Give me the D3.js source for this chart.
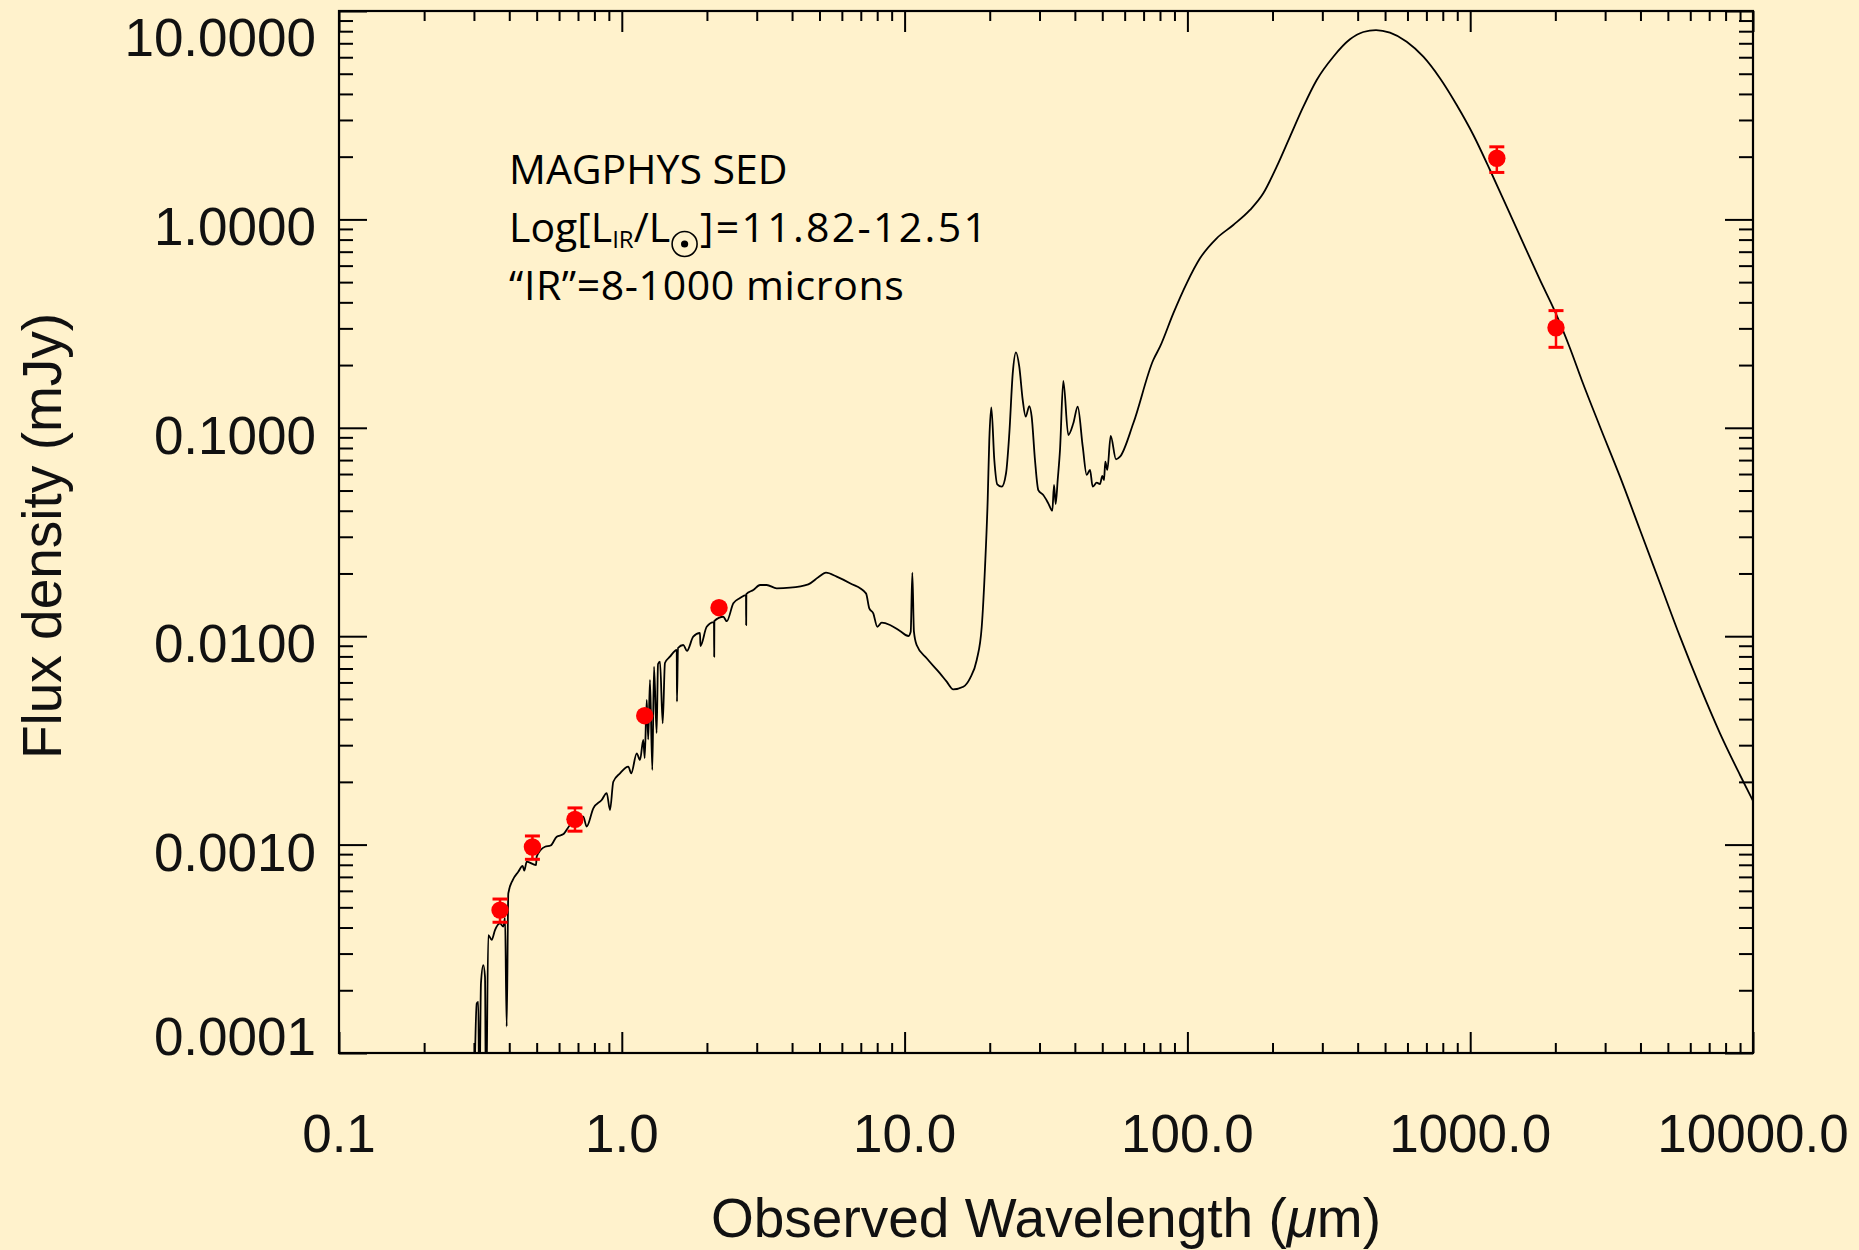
<!DOCTYPE html>
<html>
<head>
<meta charset="utf-8">
<script src="https://cdn.jsdelivr.net/npm/d3@7"></script>
<style>
  html, body { margin: 0; padding: 0; background: #FFF2CC; }
  svg { display: block; }
</style>
</head>
<body>
<div id="chart"></div>
<script>
// ---------------- data ----------------
// MAGPHYS best-fit SED (observed wavelength in micron, flux density in mJy)
const sedWave = [
  0.300, 0.3069, 0.3109, 0.3133, 0.3177, 0.3238, 0.3283, 0.3310, 0.3372, 0.3467,
  0.3561, 0.3709, 0.3811, 0.3864, 0.3917, 0.3969, 0.4114, 0.4305, 0.446, 0.452,
  0.4612, 0.4975, 0.500, 0.5351, 0.560, 0.5887, 0.620, 0.6559, 0.7310, 0.751,
  0.7929, 0.8489, 0.8843, 0.9085, 0.9331, 0.9854, 1.054, 1.080, 1.129, 1.160,
  1.191, 1.205, 1.225, 1.240, 1.258, 1.282, 1.300, 1.328, 1.343, 1.365,
  1.395, 1.421, 1.480, 1.564, 1.567, 1.580, 1.650, 1.700, 1.789, 1.890,
  1.897, 1.996, 2.118, 2.122, 2.125, 2.285, 2.350, 2.480, 2.618, 2.749,
  2.753, 2.757, 2.917, 3.082, 3.253, 3.530, 3.934, 4.565, 4.952, 5.273,
  5.753, 6.411, 7.303, 7.502, 7.749, 8.007, 8.299, 8.879, 9.632, 10.31,
  10.51, 10.65, 10.79, 11.03, 11.97, 13.34, 14.09, 14.86, 16.13, 17.03,
  17.99, 18.74, 19.25, 19.67, 19.93, 20.26, 20.76, 21.27, 22.05, 22.84,
  23.46, 24.12, 24.77, 25.44, 26.16, 26.80, 27.60, 28.14, 28.91, 29.70,
  30.93, 32.22, 33.29, 33.76, 34.21, 34.78, 35.44, 36.41, 37.92, 39.50,
  40.94, 42.65, 44.05, 45.25, 46.25, 47.79, 49.08, 50.02, 50.71, 51.25,
  52.09, 53.55, 55.91, 57.77, 64.38, 75.74, 80.01, 89.15, 99.4, 110.8,
  126.9, 145.3, 166.5, 185.5, 206.9, 230.6, 257.0, 286.6, 328.1, 375.8,
  418.8, 464.5, 520.3, 596.4, 682.8, 781.9, 896.1, 1026, 1175, 1346,
  1541, 1765, 1995, 2254, 2479, 2877, 3386, 3986, 4690, 5520,
  6496, 7643, 8995, 10000
];
const sedFlux = [
  5e-5, 1.73e-4, 1.76e-4, 5e-5, 2.16e-4, 2.64e-4, 2.32e-4, 5e-5, 3.68e-4, 3.49e-4,
  3.89e-4, 4.19e-4, 4.04e-4, 4.45e-4, 1.34e-4, 5.84e-4, 6.76e-4, 7.41e-4, 7.9e-4, 7.5e-4,
  8.28e-4, 7.98e-4, 8.75e-4, 9.77e-4, 9.9e-4, 1.091e-3, 1.12e-3, 1.242e-3, 1.361e-3, 1.22e-3,
  1.493e-3, 1.637e-3, 1.768e-3, 1.466e-3, 2.003e-3, 2.198e-3, 2.365e-3, 2.2e-3, 2.742e-3, 2.55e-3,
  3.177e-3, 2.6e-3, 4.943e-3, 3.2e-3, 6.164e-3, 2.28e-3, 7.139e-3, 3.431e-3, 7.356e-3, 7.545e-3,
  3.82e-3, 7.437e-3, 7.975e-3, 8.587e-3, 4.851e-3, 8.779e-3, 9.073e-3, 8.5e-3, 9.945e-3, 1.036e-2,
  8.975e-3, 1.110e-2, 1.169e-2, 7.975e-3, 1.183e-2, 1.240e-2, 1.18e-2, 1.438e-2, 1.525e-2, 1.576e-2,
  1.132e-2, 1.594e-2, 1.666e-2, 1.761e-2, 1.761e-2, 1.698e-2, 1.709e-2, 1.774e-2, 1.917e-2, 2.017e-2,
  1.930e-2, 1.794e-2, 1.606e-2, 1.361e-2, 1.288e-2, 1.110e-2, 1.161e-2, 1.132e-2, 1.059e-2, 1.002e-2,
  1.051e-2, 2.017e-2, 1.051e-2, 9.073e-3, 7.834e-3, 6.637e-3, 6.051e-3, 5.563e-3, 5.725e-3, 6.281e-3,
  7.689e-3, 1.110e-2, 2.156e-2, 4.503e-2, 8.740e-2, 0.1254, 7.006e-2, 5.356e-2, 5.216e-2, 6.051e-2,
  9.41e-2, 0.1826, 0.2303, 0.1965, 0.1360, 0.1131, 0.1272, 0.1131, 7.006e-2, 5.028e-2,
  4.758e-2, 4.341e-2, 4.001e-2, 5.314e-2, 4.309e-2, 5.617e-2, 7.824e-2, 0.1677, 9.236e-2, 0.1051,
  0.1262, 8.114e-2, 5.938e-2, 6.276e-2, 5.216e-2, 5.452e-2, 5.374e-2, 5.872e-2, 5.617e-2, 6.875e-2,
  6.276e-2, 9.135e-2, 7.061e-2, 7.265e-2, 0.1051, 0.2115, 0.2450, 0.3543, 0.4937, 0.6505,
  0.8116, 0.9400, 1.110, 1.334, 1.790, 2.494, 3.473, 4.667, 6.035, 7.313,
  7.930, 8.103, 7.870, 7.124, 6.035, 4.756, 3.538, 2.541, 1.726, 1.151,
  0.7679, 0.5120, 0.3607, 0.2407, 0.1696, 0.1012, 5.828e-2, 3.233e-2, 1.794e-2, 9.945e-3,
  5.725e-3, 3.420e-3, 2.158e-3, 1.62e-3
];

// Photometric measurements
const obsWave  = [0.371, 0.483, 0.683, 1.205, 2.207, 1242, 2011];
const obsFlux  = [4.85e-4, 9.74e-4, 1.322e-3, 4.155e-3, 1.37e-2, 1.965, 0.302];
const obsErrLo = [4.24e-4, 8.50e-4, 1.16e-3, null, null, 1.68, 0.2433];
const obsErrHi = [5.48e-4, 1.10e-3, 1.50e-3, null, null, 2.23, 0.365];

// Axis ticks / labels
const xMajor = [0.1, 1, 10, 100, 1000, 10000];
const xTickLabels = ["0.1", "1.0", "10.0", "100.0", "1000.0", "10000.0"];
const yMajor = [1e-4, 1e-3, 1e-2, 1e-1, 1, 10];
const yTickLabels = ["0.0001", "0.0010", "0.0100", "0.1000", "1.0000", "10.0000"];

const annotationLines = ["MAGPHYS SED", "Log[L", "\u201CIR\u201D=8-1000 microns"];

// ---------------- layout ----------------
const W = 1859, H = 1250;
const L = 339, R = 1753, T = 11, B = 1053;
const bg = "#FFF2CC";
const tickFont = "'Liberation Sans', Arial, Helvetica, sans-serif";

const svg = d3.select("#chart").append("svg")
  .attr("width", W).attr("height", H)
  .attr("viewBox", `0 0 ${W} ${H}`);

svg.append("rect").attr("width", W).attr("height", H).attr("fill", bg);

const x = d3.scaleLog().domain([0.1, 10000]).range([L, R]);
const y = d3.scaleLog().domain([1e-4, 10]).range([B, T]);

svg.append("defs").append("clipPath").attr("id", "plotclip")
  .append("rect").attr("x", L).attr("y", T).attr("width", R - L).attr("height", B - T);

// ---------------- SED curve ----------------
const sed = sedWave.map((w, i) => ({ w, f: sedFlux[i] }));
const line = d3.line().x(d => x(d.w)).y(d => y(d.f)).curve(d3.curveMonotoneX);
svg.append("path")
  .datum(sed)
  .attr("clip-path", "url(#plotclip)")
  .attr("d", line)
  .attr("fill", "none")
  .attr("stroke", "#000")
  .attr("stroke-width", 1.8)
  .attr("stroke-linejoin", "round");

// ---------------- axes ----------------
const xMinor = x.ticks().filter(v => !xMajor.some(m => Math.abs(m - v) / m < 1e-6));
const yMinor = y.ticks().filter(v => !yMajor.some(m => Math.abs(m - v) / m < 1e-6));

function styleAxis(g) {
  g.select(".domain").remove();
  g.selectAll("line").attr("stroke", "#000").attr("stroke-width", 2);
  g.selectAll("text").remove();
}

// bottom
svg.append("g").attr("transform", `translate(0,${B})`)
  .call(d3.axisBottom(x).tickValues(xMinor).tickSize(-10).tickFormat("")).call(styleAxis);
svg.append("g").attr("transform", `translate(0,${B})`)
  .call(d3.axisBottom(x).tickValues(xMajor).tickSize(-21).tickFormat("")).call(styleAxis);
// top
svg.append("g").attr("transform", `translate(0,${T})`)
  .call(d3.axisTop(x).tickValues(xMinor).tickSize(-10).tickFormat("")).call(styleAxis);
svg.append("g").attr("transform", `translate(0,${T})`)
  .call(d3.axisTop(x).tickValues(xMajor).tickSize(-21).tickFormat("")).call(styleAxis);
// left
svg.append("g").attr("transform", `translate(${L},0)`)
  .call(d3.axisLeft(y).tickValues(yMinor).tickSize(-14).tickFormat("")).call(styleAxis);
svg.append("g").attr("transform", `translate(${L},0)`)
  .call(d3.axisLeft(y).tickValues(yMajor).tickSize(-28).tickFormat("")).call(styleAxis);
// right
svg.append("g").attr("transform", `translate(${R},0)`)
  .call(d3.axisRight(y).tickValues(yMinor).tickSize(-14).tickFormat("")).call(styleAxis);
svg.append("g").attr("transform", `translate(${R},0)`)
  .call(d3.axisRight(y).tickValues(yMajor).tickSize(-28).tickFormat("")).call(styleAxis);

// frame
svg.append("rect").attr("x", L).attr("y", T).attr("width", R - L).attr("height", B - T)
  .attr("fill", "none").attr("stroke", "#000").attr("stroke-width", 2.2);

// tick labels
svg.append("g").selectAll("text").data(xMajor).join("text")
  .attr("x", d => x(d)).attr("y", 1152)
  .attr("text-anchor", "middle")
  .attr("font-family", tickFont).attr("font-size", 53).attr("fill", "#111")
  .text((d, i) => xTickLabels[i]);

svg.append("g").selectAll("text").data(yMajor).join("text")
  .attr("x", L - 23)
  .attr("y", (d, i) => i === yMajor.length - 1 ? y(d) + 45 : (i === 0 ? y(d) + 2 : y(d) + 26))
  .attr("text-anchor", "end")
  .attr("font-family", tickFont).attr("font-size", 53).attr("fill", "#111")
  .text((d, i) => yTickLabels[i]);

// axis titles
const xt = svg.append("text")
  .attr("x", (L + R) / 2).attr("y", 1237)
  .attr("text-anchor", "middle")
  .attr("font-family", tickFont).attr("font-size", 55).attr("fill", "#111");
xt.append("tspan").text("Observed Wavelength (");
xt.append("tspan").attr("font-style", "italic").text("\u03BC");
xt.append("tspan").text("m)");

svg.append("text")
  .attr("transform", `translate(61,${(T + B) / 2 + 4}) rotate(-90)`)
  .attr("text-anchor", "middle")
  .attr("font-family", tickFont).attr("font-size", 55).attr("fill", "#111")
  .text("Flux density (mJy)");

// ---------------- observations ----------------
const obs = obsWave.map((w, i) => ({ w, f: obsFlux[i], lo: obsErrLo[i], hi: obsErrHi[i] }));
const red = "#FF0000";
const eg = svg.append("g");
const withErr = obs.filter(d => d.lo != null);
eg.selectAll("line.v").data(withErr).join("line")
  .attr("x1", d => x(d.w)).attr("x2", d => x(d.w))
  .attr("y1", d => y(d.lo)).attr("y2", d => y(d.hi))
  .attr("stroke", red).attr("stroke-width", 2.5);
eg.selectAll("line.lo").data(withErr).join("line")
  .attr("x1", d => x(d.w) - 7.5).attr("x2", d => x(d.w) + 7.5)
  .attr("y1", d => y(d.lo)).attr("y2", d => y(d.lo))
  .attr("stroke", red).attr("stroke-width", 3);
eg.selectAll("line.hi").data(withErr).join("line")
  .attr("x1", d => x(d.w) - 7.5).attr("x2", d => x(d.w) + 7.5)
  .attr("y1", d => y(d.hi)).attr("y2", d => y(d.hi))
  .attr("stroke", red).attr("stroke-width", 3);
svg.append("g").selectAll("circle").data(obs).join("circle")
  .attr("cx", d => x(d.w)).attr("cy", d => y(d.f)).attr("r", 8.7)
  .attr("fill", red);

// ---------------- annotation ----------------
const annFont = "'Open Sans', 'Noto Sans', sans-serif";
const annX = 509, annSize = 41;
svg.append("text").attr("x", annX).attr("y", 184)
  .attr("font-family", annFont).attr("font-size", annSize).attr("fill", "#000")
  .text(annotationLines[0]);

// line 2: Log[L_IR / L_sun] = ...  (sun symbol drawn as a circle with a dot)
const base2 = 242;
const t2a = svg.append("text").attr("x", annX).attr("y", base2)
  .attr("font-family", annFont).attr("font-size", annSize).attr("fill", "#000");
t2a.append("tspan").text(annotationLines[1]);
t2a.append("tspan").attr("font-size", 24).attr("dy", 6).text("IR");
t2a.append("tspan").attr("dy", -6).text("/L");
const lenA = t2a.node().getComputedTextLength();
const sunR = 12.5;
const sunCx = annX + lenA + sunR + 2;
const sunCy = base2 + 2;
svg.append("circle").attr("cx", sunCx).attr("cy", sunCy).attr("r", sunR)
  .attr("fill", "none").attr("stroke", "#000").attr("stroke-width", 1.6);
svg.append("circle").attr("cx", sunCx).attr("cy", sunCy).attr("r", 3.6).attr("fill", "#000");
svg.append("text").attr("x", sunCx + sunR + 3).attr("y", base2)
  .attr("font-family", annFont).attr("font-size", annSize).attr("fill", "#000")
  .attr("letter-spacing", 2.3)
  .text("]=11.82-12.51");

svg.append("text").attr("x", annX).attr("y", 300)
  .attr("font-family", annFont).attr("font-size", annSize).attr("letter-spacing", 0.6).attr("fill", "#000")
  .text(annotationLines[2]);
</script>
</body>
</html>
